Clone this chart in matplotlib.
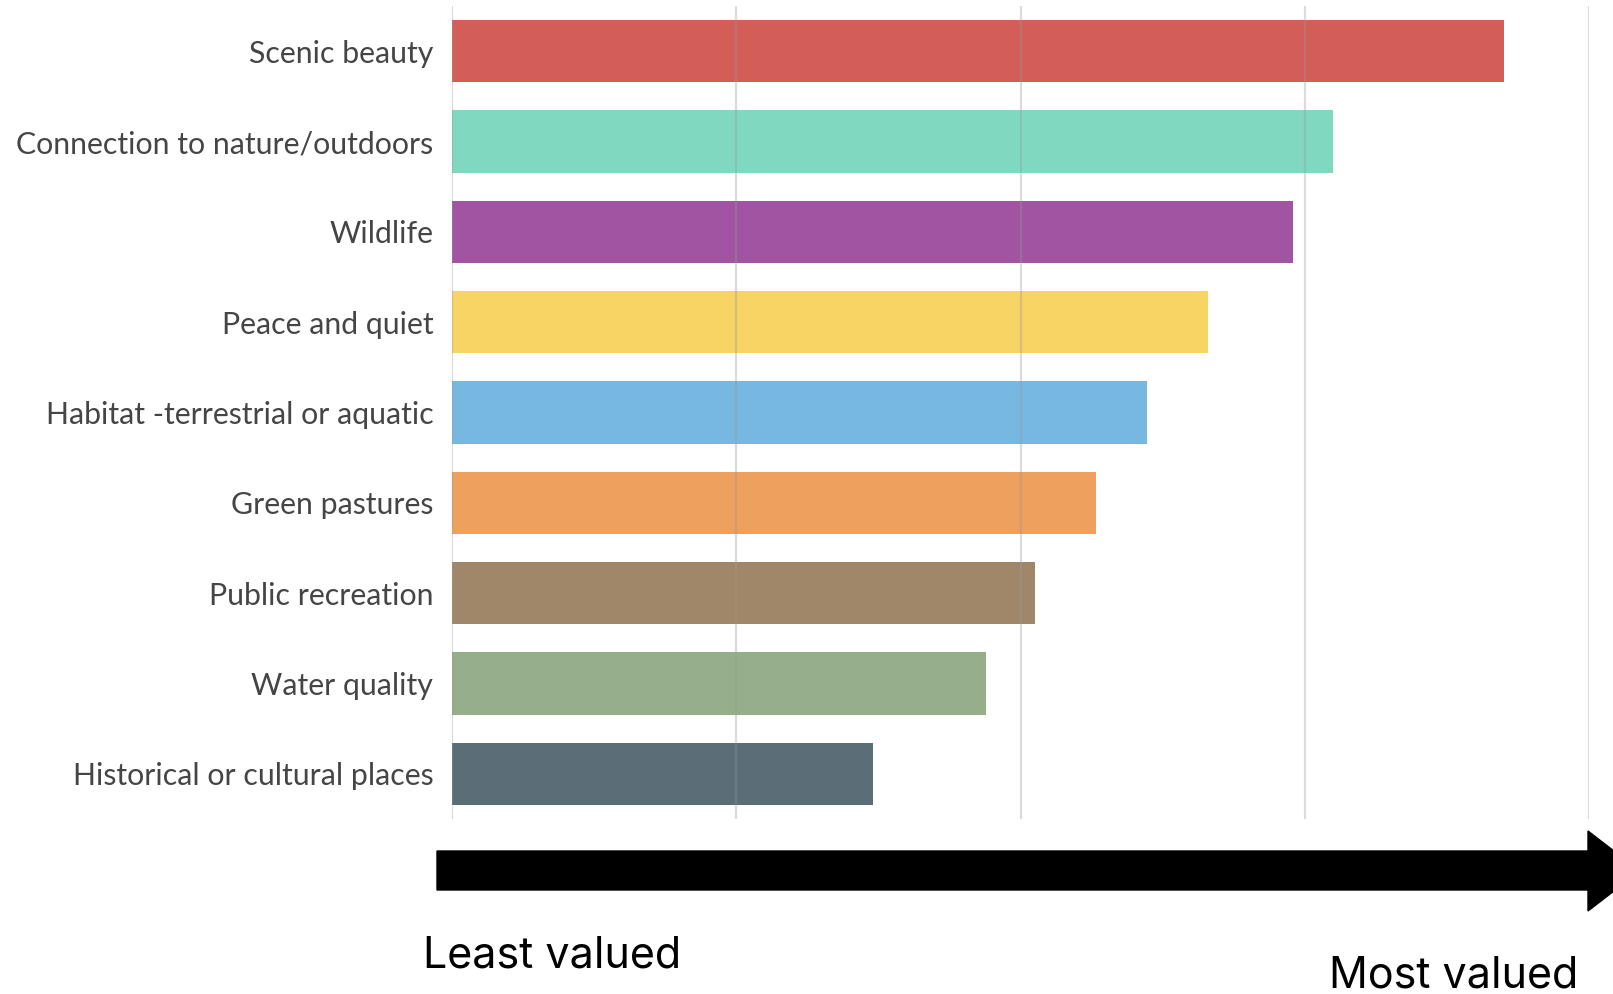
import matplotlib
matplotlib.use("Agg")
import matplotlib.pyplot as plt
from matplotlib.patches import Polygon

# categories, top to bottom
categories = [
    "Scenic beauty",
    "Connection to nature/outdoors",
    "Wildlife",
    "Peace and quiet",
    "Habitat -terrestrial or aquatic",
    "Green pastures",
    "Public recreation",
    "Water quality",
    "Historical or cultural places",
]
# relative score (gridline units, unlabelled in original)
scores = [3.70, 3.10, 2.96, 2.66, 2.445, 2.264, 2.051, 1.877, 1.482]
bar_colors = ["#d35e57", "#80d8c0", "#a054a2", "#f8d464", "#76b8e0",
              "#eea05e", "#a08769", "#96ae8a", "#5b6e78"]
grid_ticks = [0, 1, 2, 3, 4]

W, H = 1613, 994
fig = plt.figure(figsize=(W / 100, H / 100), dpi=100)
ax = fig.add_axes([452 / W, 175 / H, 1137 / W, 813 / H])

ypos = list(range(len(categories)))
ax.barh(ypos, scores, height=0.69, color=bar_colors, zorder=1)
ax.set_xlim(0, 4)
ax.set_ylim(len(categories) - 0.5, -0.5)

for t in grid_ticks:
    ax.axvline(t, color="#999999", alpha=0.35, lw=1.6, zorder=2)

ax.set_xticks([])
ax.set_yticks(ypos)
ax.set_yticklabels(categories, family="Lato", fontsize=21.8, color="#454545")
ax.tick_params(axis="y", length=0, pad=13.5)
for s in ax.spines.values():
    s.set_visible(False)

# black arrow along the bottom (figure pixel coordinates)
def fx(px):
    return px / W

def fy(py):
    return 1 - py / H

arrow_pts = [(437, 851), (1588, 851), (1588, 831), (1640, 871),
             (1588, 911), (1588, 890), (437, 890)]
fig.patches.append(Polygon([(fx(x), fy(y)) for x, y in arrow_pts],
                           closed=True, transform=fig.transFigure,
                           color="black", zorder=5))

fig.text(fx(423), fy(967), "Least valued", family="Inter", fontsize=31,
         color="black", ha="left", va="baseline")
fig.text(fx(1578), fy(988), "Most valued", family="Inter", fontsize=31,
         color="black", ha="right", va="baseline")

fig.savefig("out.png", dpi=100, facecolor="white")
